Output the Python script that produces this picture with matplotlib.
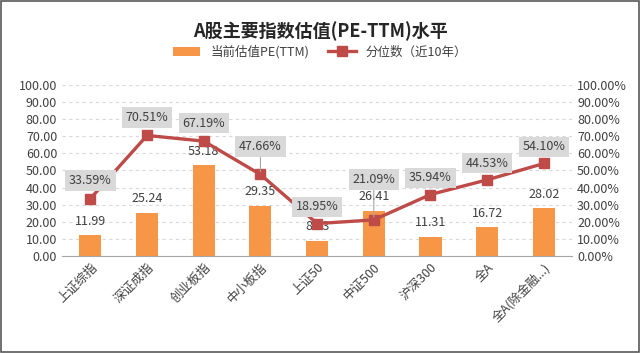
import matplotlib
matplotlib.use("Agg")
import matplotlib.pyplot as plt
from matplotlib.patches import Rectangle
from matplotlib.ticker import FormatStrFormatter

plt.rcParams['font.family'] = ['Noto Sans CJK SC', 'DejaVu Sans']

categories = ['上证综指', '深证成指', '创业板指', '中小板指', '上证50', '中证500', '沪深300', '全A', '全A(除金融...)']
pe = [11.99, 25.24, 53.18, 29.35, 8.83, 26.41, 11.31, 16.72, 28.02]
pct = [33.59, 70.51, 67.19, 47.66, 18.95, 21.09, 35.94, 44.53, 54.10]
# label offsets above markers (points), and whether a leader line is drawn
pct_off = [13, 13, 13, 20, 12, 29, 12, 12, 12]
leader = [False, False, False, True, False, True, False, False, False]

bar_c = '#F79646'
line_c = '#BE4B48'
txt_c = '#404040'

fig = plt.figure(figsize=(6.4, 3.53), dpi=100)
fig.patches.append(Rectangle((0.002, 0.003), 0.996, 0.994, transform=fig.transFigure,
                             fill=False, edgecolor='#595959', lw=1.2))
ax = fig.add_axes([0.097, 0.275, 0.797, 0.484])
ax2 = ax.twinx()

x = range(len(categories))
ax.bar(x, pe, width=0.39, color=bar_c, label='当前估值PE(TTM)', zorder=2)
for i, v in enumerate(pe):
    ax.annotate(f'{v:.2f}', (i, v), xytext=(0, 10), textcoords='offset points',
                ha='center', va='center', fontsize=9, color=txt_c, zorder=3)

ax.set_ylim(0, 100)
ax.set_yticks(range(0, 101, 10))
ax.yaxis.set_major_formatter(FormatStrFormatter('%.2f'))
ax.set_xlim(-0.5, len(categories) - 0.5)
ax.set_xticks(list(x))
ax.set_xticklabels(categories, rotation=45, ha='right', rotation_mode='anchor', fontsize=9, color=txt_c)
ax.grid(axis='y', ls=(0, (3, 3)), color='#D9D9D9', lw=0.8, zorder=0)
ax.set_axisbelow(True)
for s in ['top', 'left', 'right']:
    ax.spines[s].set_visible(False)
ax.spines['bottom'].set_color('#A6A6A6')
ax.tick_params(axis='both', length=0, labelsize=9, colors=txt_c)

ax2.plot(x, pct, color=line_c, lw=2.4, marker='s', ms=7, label='分位数（近10年）', zorder=4)
ax2.set_ylim(0, 100)
ax2.set_yticks(range(0, 101, 10))
ax2.yaxis.set_major_formatter(FormatStrFormatter('%.2f%%'))
for s in ['top', 'left', 'right', 'bottom']:
    ax2.spines[s].set_visible(False)
ax2.tick_params(axis='y', length=0, labelsize=9, colors=txt_c)

for i, v in enumerate(pct):
    kw = {}
    if leader[i]:
        kw['arrowprops'] = dict(arrowstyle='-', color='#A6A6A6', lw=0.8, shrinkA=0, shrinkB=2)
    ax2.annotate(f'{v:.2f}%', (i, v), xytext=(0, pct_off[i]), textcoords='offset points',
                 ha='center', va='center', fontsize=9, color=txt_c,
                 bbox=dict(boxstyle='square,pad=0.3', fc='#D9D9D9', ec='none'), zorder=5, **kw)

h1, l1 = ax.get_legend_handles_labels()
h2, l2 = ax2.get_legend_handles_labels()
fig.legend(h1 + h2, l1 + l2, loc='center', bbox_to_anchor=(0.5, 0.853), ncol=2, frameon=False,
           fontsize=9, handlelength=2.2, columnspacing=1.5, labelcolor=txt_c)

fig.suptitle('A股主要指数估值(PE-TTM)水平', x=0.5, y=0.94, fontsize=13, fontweight='bold', color='#262626')

fig.savefig('out.png', dpi=100)
